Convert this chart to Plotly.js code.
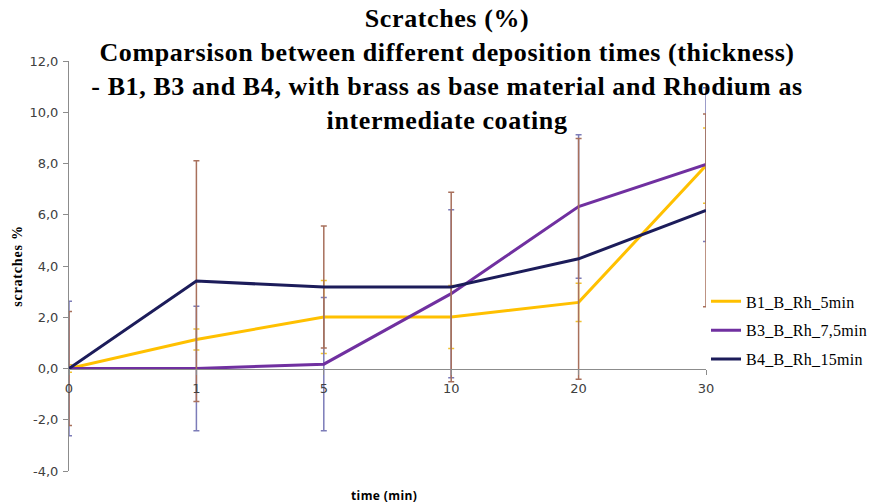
<!DOCTYPE html>
<html>
<head>
<meta charset="utf-8">
<script src="https://cdn.plot.ly/plotly-3.0.1.min.js"></script>
<style>
html,body{margin:0;padding:0;background:#fff;}
#chart{width:880px;height:504px;}
#chart .gtitle{letter-spacing:0.6px;}
#chart .legendtext{letter-spacing:0.3px;}
#chart .ytitle{letter-spacing:0.8px;}
#chart .annotation-text{letter-spacing:0.4px;}
</style>
</head>
<body>
<div id="chart"></div>
<script>
// Categories (time, min)
var categories = ["0", "1", "5", "10", "20", "30"];

// Series values (scratches %)
var b1Values = [0.0, 1.13, 2.01, 2.01, 2.58, 7.92];
var b3Values = [0.0, 0.0, 0.17, 2.92, 6.32, 7.96];
var b4Values = [0.0, 3.41, 3.18, 3.18, 4.28, 6.17];

// Error bar half-widths
var b1Errors = [0.15, 0.41, 1.42, 1.23, 0.75, 1.47];
var b3Errors = [2.62, 2.43, 2.60, 3.28, 2.80, 3.00];
var b4Errors = [2.22, 4.70, 2.38, 3.70, 4.70, 3.76];

// Series names
var seriesNames = ["B1_B_Rh_5min", "B3_B_Rh_7,5min", "B4_B_Rh_15min"];

// Y tick labels
var yTickVals = [-4, -2, 0, 2, 4, 6, 8, 10, 12];
var yTickText = ["-4,0", "-2,0", "0,0", "2,0", "4,0", "6,0", "8,0", "10,0", "12,0"];

var titleText = "<b>Scratches (%)<br>Comparsison between different deposition times (thickness)<br>- B1, B3 and B4, with brass as base material and Rhodium as<br>intermediate coating</b>";
var yTitle = "<b>scratches %</b>";
var xTitle = "time (min)";

var SERIF = "Times New Roman";

function makeTrace(name, vals, errs, lineColor, errColor) {
  return {
    type: "scatter",
    mode: "lines",
    name: name,
    legendgroup: name,
    x: categories,
    y: vals,
    line: {color: lineColor, width: 3},
    error_y: {type: "data", array: errs, symmetric: true, visible: true,
              color: errColor, thickness: 1.5, width: 3}
  };
}

var data = [
  makeTrace(seriesNames[0], b1Values, b1Errors, "#FFC000", "#F2C230"),
  makeTrace(seriesNames[1], b3Values, b3Errors, "#7030A0", "#7C7CB8"),
  makeTrace(seriesNames[2], b4Values, b4Errors, "#1C1C5A", "#A8705C")
];

var layout = {
  width: 880,
  height: 504,
  margin: {l: 69, r: 174, t: 61, b: 33, pad: 0},
  paper_bgcolor: "#ffffff",
  plot_bgcolor: "rgba(0,0,0,0)",
  showlegend: true,
  title: {
    text: titleText,
    font: {family: SERIF, size: 26, color: "#000000"},
    x: 0.508, xanchor: "center",
    y: 0.946, yanchor: "top"
  },
  xaxis: {
    type: "category",
    range: [0, 5],
    anchor: "free",
    position: 0.25,
    showline: true,
    linecolor: "#8c8c8c",
    linewidth: 1,
    ticks: "outside",
    ticklen: 5,
    tickcolor: "#8c8c8c",
    ticklabelstandoff: 3,
    showgrid: false,
    zeroline: false,
    tickfont: {family: "DejaVu Sans", size: 13, color: "#404040"}
  },
  yaxis: {
    range: [-4, 12],
    tickvals: yTickVals,
    ticktext: yTickText,
    showline: true,
    linecolor: "#8c8c8c",
    linewidth: 1,
    ticks: "outside",
    ticklen: 5,
    tickcolor: "#8c8c8c",
    ticklabelstandoff: 2,
    showgrid: false,
    zeroline: false,
    tickfont: {family: "DejaVu Sans", size: 13, color: "#404040"},
    title: {text: yTitle, font: {family: SERIF, size: 14, color: "#000000"}, standoff: 3}
  },
  legend: {
    x: 1.0, xanchor: "left",
    y: 0.455, yanchor: "top",
    font: {family: SERIF, size: 16, color: "#000000"},
    bgcolor: "rgba(0,0,0,0)",
    tracegroupgap: 5
  },
  annotations: [{
    text: "<b>" + xTitle + "</b>",
    xref: "paper", yref: "paper",
    x: 0.495, y: 0, xanchor: "center", yanchor: "top",
    yshift: -14,
    showarrow: false,
    font: {family: "Open Sans", size: 12, color: "#000000"}
  }]
};

Plotly.newPlot("chart", data, layout, {displayModeBar: false, staticPlot: true});
</script>
</body>
</html>
